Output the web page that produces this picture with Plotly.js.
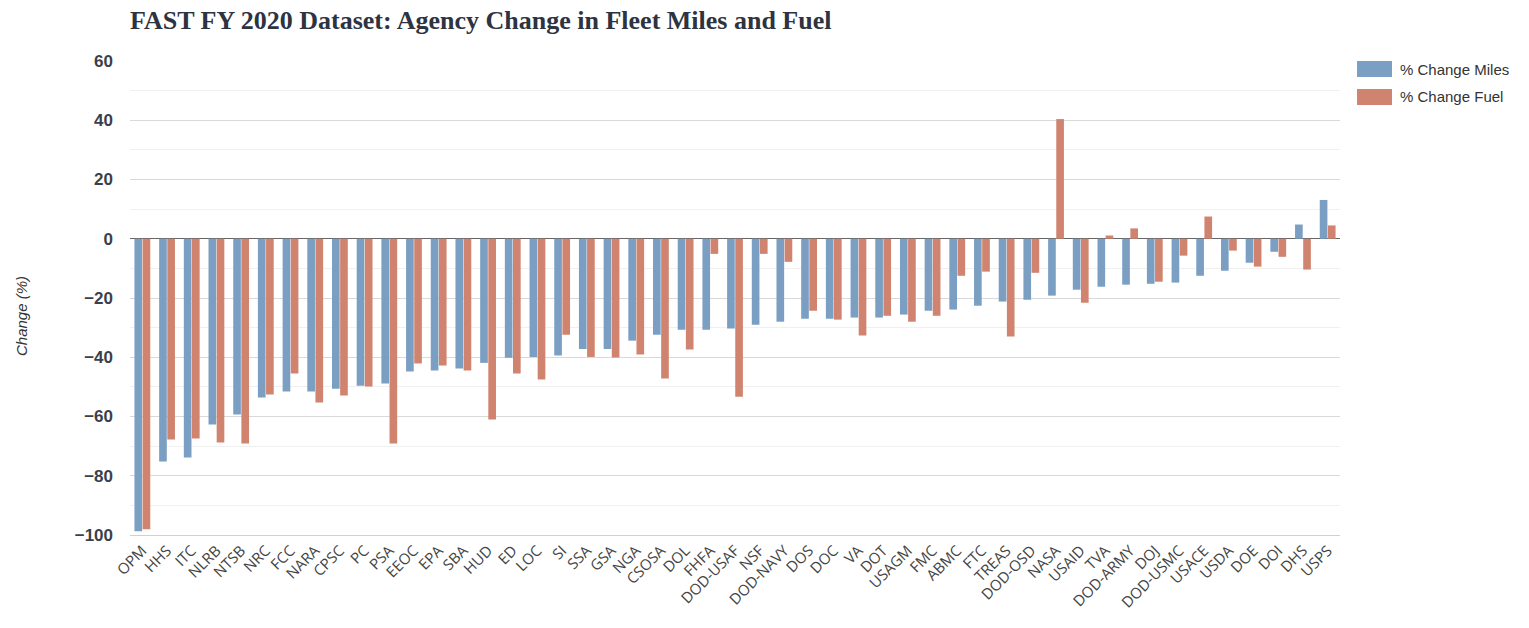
<!DOCTYPE html>
<html>
<head>
<meta charset="utf-8">
<script src="https://cdn.plot.ly/plotly-3.0.1.min.js"></script>
<style>html,body{margin:0;padding:0;background:#fff;}#chart{width:1529px;height:628px;}</style>
</head>
<body>
<div id="chart"></div>
<script>
const agencies = ["OPM","HHS","ITC","NLRB","NTSB","NRC","FCC","NARA","CPSC","PC","PSA","EEOC","EPA","SBA","HUD","ED","LOC","SI","SSA","GSA","NGA","CSOSA","DOL","FHFA","DOD-USAF","NSF","DOD-NAVY","DOS","DOC","VA","DOT","USAGM","FMC","ABMC","FTC","TREAS","DOD-OSD","NASA","USAID","TVA","DOD-ARMY","DOJ","DOD-USMC","USACE","USDA","DOE","DOI","DHS","USPS"];
const changeMiles = [-98.7,-75.2,-73.8,-62.7,-59.3,-53.6,-51.6,-51.6,-50.6,-49.6,-48.9,-44.8,-44.5,-43.8,-41.9,-40.2,-39.9,-39.4,-37.2,-37.2,-34.4,-32.4,-30.7,-30.7,-30.3,-29.0,-28.0,-27.0,-27.0,-26.6,-26.6,-25.6,-24.3,-23.9,-22.6,-21.2,-20.6,-19.2,-17.2,-16.2,-15.5,-15.2,-14.8,-12.5,-10.8,-8.1,-4.4,4.8,13.1];
const changeFuel = [-98.1,-67.8,-67.4,-68.8,-69.1,-52.6,-45.5,-55.3,-52.9,-49.9,-69.1,-42.1,-42.8,-44.5,-61.0,-45.5,-47.5,-32.4,-39.9,-40.1,-39.1,-47.2,-37.4,-5.1,-53.3,-5.1,-7.8,-24.3,-27.3,-32.7,-26.0,-28.0,-26.0,-12.5,-11.1,-33.0,-11.5,40.4,-21.6,1.1,3.5,-14.5,-5.7,7.5,-4.0,-9.4,-6.1,-10.4,4.5];
const seriesNames = ["% Change Miles","% Change Fuel"];
const yTicks = [-100,-80,-60,-40,-20,0,20,40,60];

const colors = ["#7b9fc2","#d0846f"];
const traces = [
  {type:"bar", name:seriesNames[0], x:agencies, y:changeMiles, marker:{color:colors[0]}, showlegend:false},
  {type:"bar", name:seriesNames[1], x:agencies, y:changeFuel, marker:{color:colors[1]}, showlegend:false}
];

const W = 1529, H = 628, L = 130, R = 189, T = 61, B = 93;
const pw = W - L - R, ph = H - T - B;
const px2x = p => (p - L) / pw;
const py2y = p => (H - B - p) / ph;

const legendItems = [{top:61}, {top:89}];
const shapes = [], annotations = [];
legendItems.forEach((it, i) => {
  shapes.push({type:"rect", xref:"paper", yref:"paper", x0:px2x(1357), x1:px2x(1392), y0:py2y(it.top+16), y1:py2y(it.top), fillcolor:colors[i], line:{width:0}});
  annotations.push({xref:"paper", yref:"paper", x:px2x(1398), y:py2y(it.top+8), xanchor:"left", yanchor:"middle", showarrow:false, text:seriesNames[i], font:{family:"Liberation Sans, Arial, sans-serif", size:15, color:"#333"}});
});
annotations.push({xref:"paper", yref:"paper", x:px2x(21), y:py2y(316), xanchor:"center", yanchor:"middle", showarrow:false, textangle:-90, text:"Change (%)", font:{family:"Liberation Sans, Arial, sans-serif", size:15, color:"#333", style:"italic"}});

const layout = {
  width:W, height:H,
  margin:{l:L, r:R, t:T, b:B, autoexpand:false},
  paper_bgcolor:"#fff", plot_bgcolor:"#fff",
  title:{text:"FAST FY 2020 Dataset: Agency Change in Fleet Miles and Fuel", xref:"container", yref:"container", x:130/W, xanchor:"left", y:1-20/H, yanchor:"middle", font:{family:"Liberation Serif, Times New Roman, serif", size:26, weight:"bold", color:"#2d3340"}},
  barmode:"group", bargap:0.34, bargroupgap:0.06,
  xaxis:{type:"category", tickangle:-45, automargin:false, showgrid:false, showline:true, linecolor:"#d0d0d0", ticks:"", tickfont:{family:"Open Sans, DejaVu Sans, sans-serif", size:15, color:"#444"}, range:[-0.5, agencies.length-0.5]},
  yaxis:{range:[-100,60], tickvals:yTicks, automargin:false, showgrid:true, gridcolor:"#d9d9d9", gridwidth:1, zeroline:true, zerolinecolor:"#666", zerolinewidth:1, ticks:"", ticklabelstandoff:16,
    minor:{dtick:10, tick0:0, showgrid:true, gridcolor:"#f0f0f0", gridwidth:1},
    tickfont:{family:"Liberation Sans, Arial, sans-serif", size:17, weight:"bold", color:"#3a3f4b"}},
  shapes:shapes, annotations:annotations, showlegend:false
};
Plotly.newPlot("chart", traces, layout, {displayModeBar:false, staticPlot:true});
</script>
</body>
</html>
